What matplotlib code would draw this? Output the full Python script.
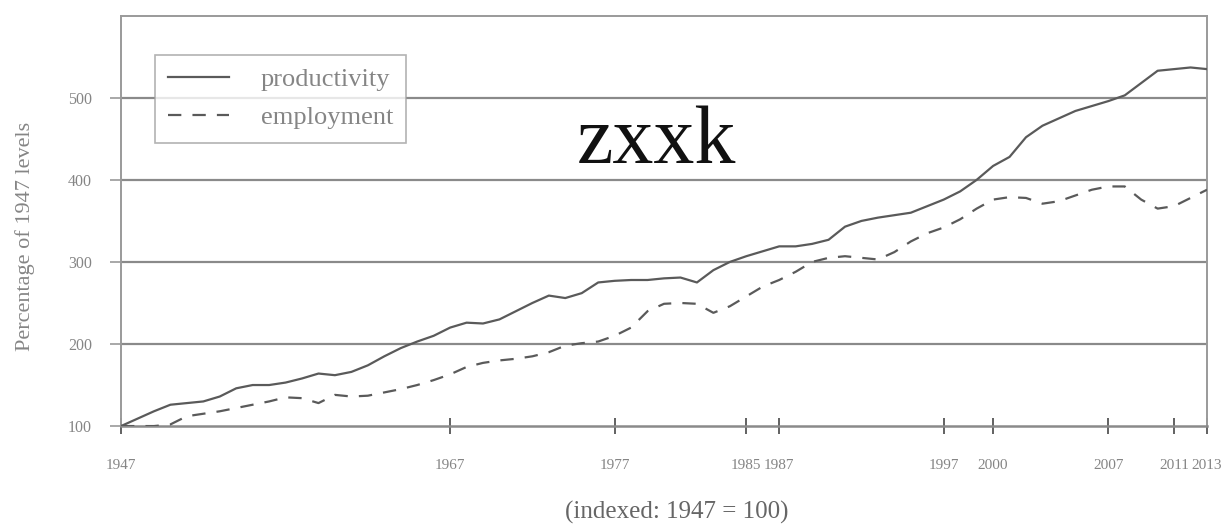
import matplotlib.pyplot as plt

years = list(range(1947, 2014))

productivity = [
    100, 109, 118, 126, 128, 130, 136, 146, 150, 150,
    153, 158, 164, 162, 166, 174, 185, 195, 203, 210,
    220, 226, 225, 230, 240, 250, 259, 256, 262, 275,
    277, 278, 278, 280, 281, 275, 290, 300, 307, 313,
    319, 319, 322, 327, 343, 350, 354, 357, 360, 368,
    376, 386, 400, 417, 428, 452, 466, 475, 484, 490,
    496, 503, 518, 533, 535, 537, 535,
]

employment = [
    100, 100, 100, 102, 112, 115, 118, 122, 126, 130,
    135, 134, 128, 138, 136, 137, 141, 145, 150, 156,
    163, 172, 177, 180, 182, 185, 190, 198, 201, 203,
    210, 220, 240, 249, 250, 249, 238, 246, 258, 270,
    278, 288, 300, 305, 307, 305, 303, 312, 325, 335,
    342, 352, 365, 376, 379, 378, 371, 374, 381, 388,
    392, 392, 376, 365, 368, 378, 388,
]

tick_years = [1947, 1967, 1977, 1985, 1987, 1997, 2000, 2007, 2011, 2013]
y_ticks = [100, 200, 300, 400, 500]

plt.rcParams['font.family'] = ['Liberation Serif', 'DejaVu Serif']

fig = plt.figure(figsize=(12.3, 5.26), dpi=100)
ax = fig.add_axes([0.0984, 0.190, 0.8829, 0.780])

line_col = '#5a5a5a'
grid_col = '#8a8a8a'
text_col = '#858585'

for v in y_ticks[1:]:
    ax.axhline(v, color=grid_col, lw=1.6, zorder=1)

ax.plot(years, productivity, color=line_col, lw=1.6, label='productivity', zorder=3)
ax.plot(years, employment, color=line_col, lw=1.6, dashes=(6, 5),
        label='employment', zorder=3)

ax.set_xlim(1947, 2013)
ax.set_ylim(100, 600)
ax.set_xticks(tick_years)
ax.set_xticklabels([str(y) for y in tick_years])
ax.set_yticks(y_ticks)

for side in ['left', 'right', 'top']:
    ax.spines[side].set_color('#9a9a9a')
    ax.spines[side].set_linewidth(1.4)
ax.spines['bottom'].set_color(grid_col)
ax.spines['bottom'].set_linewidth(1.8)

ax.tick_params(axis='x', direction='inout', length=12, width=1.3, color='#555555',
               labelsize=11, labelcolor=text_col, pad=18)
ax.tick_params(axis='y', direction='out', length=8, width=1.2, color='#999999',
               labelsize=11.5, labelcolor=text_col, pad=13)

ax.set_ylabel('Percentage of 1947 levels', color=text_col, fontsize=16)
ax.yaxis.set_label_coords(-0.079, 0.463)
fig.text(0.55, 0.025, '(indexed: 1947 = 100)', ha='center', va='center',
         color='#666666', fontsize=18)

leg = ax.legend(loc='upper left', bbox_to_anchor=(0.0313, 0.905), borderaxespad=0,
                frameon=True, fancybox=False, fontsize=19, handlelength=2.3,
                handletextpad=1.2, borderpad=0.5, labelspacing=0.55)
leg.get_frame().set_edgecolor('#a0a0a0')
leg.get_frame().set_linewidth(1.2)
for t in leg.get_texts():
    t.set_color(text_col)

fig.text(0.534, 0.69, 'zxxk', ha='center', va='baseline', fontsize=59,
         color='#111111')

plt.savefig('out.png', dpi=100)
plt.close()
